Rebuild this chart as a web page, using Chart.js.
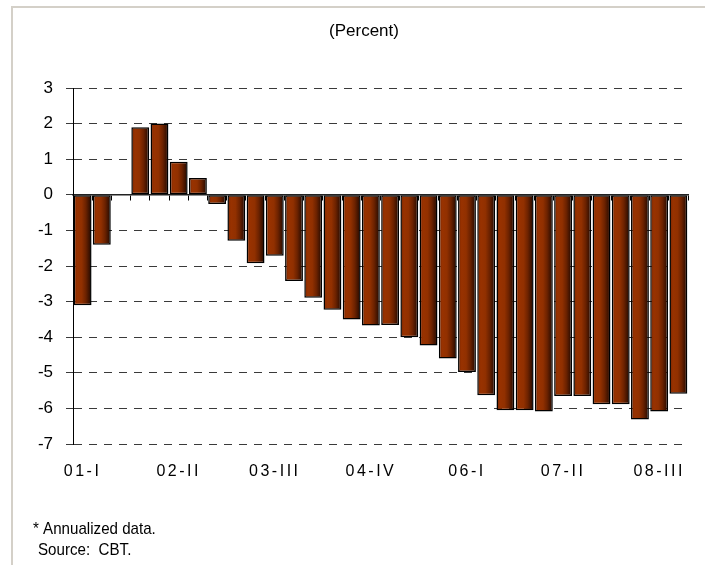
<!DOCTYPE html>
<html><head><meta charset="utf-8">
<script src="https://cdn.jsdelivr.net/npm/chart.js@4.4.1/dist/chart.umd.min.js"></script>
<style>html,body{margin:0;padding:0;background:#fff;} canvas{display:block;}</style>
</head><body>
<canvas id="c" width="705" height="565"></canvas>
<script>
const quarters = [
  '01-I','01-II','01-III','01-IV','02-I','02-II','02-III','02-IV',
  '03-I','03-II','03-III','03-IV','04-I','04-II','04-III','04-IV',
  '05-I','05-II','05-III','05-IV','06-I','06-II','06-III','06-IV',
  '07-I','07-II','07-III','07-IV','08-I','08-II','08-III','08-IV'
];
const values = [
  -3.10, -1.40, 0, 1.90, 2.00, 0.93, 0.47, -0.26,
  -1.29, -1.92, -1.71, -2.42, -2.89, -3.23, -3.50, -3.67,
  -3.66, -4.00, -4.23, -4.60, -4.98, -5.63, -6.05, -6.05,
  -6.09, -5.65, -5.65, -5.88, -5.88, -6.31, -6.09, -5.59
];
const shownTicks = ['01-I','02-II','03-III','04-IV','06-I','07-II','08-III'];
const titleText = '(Percent)';
const notes = ['* Annualized data.', 'Source:  CBT.'];

Chart.defaults.font.family = '"Liberation Sans", Arial, sans-serif';
Chart.defaults.color = '#000';

function barFill(c) {
  const chart = c.chart;
  const xs = chart.scales.x;
  if (!xs || c.dataIndex === undefined) return '#8a2d00';
  const cx = xs.getPixelForValue(c.dataIndex);
  const step = Math.abs(xs.getPixelForValue(1) - xs.getPixelForValue(0));
  if (!isFinite(cx) || !isFinite(step) || step <= 0) return '#8a2d00';
  const w = step * 0.93;
  const g = chart.ctx.createLinearGradient(cx - w / 2, 0, cx + w / 2, 0);
  g.addColorStop(0, '#7a2600');
  g.addColorStop(0.2, '#983200');
  g.addColorStop(0.45, '#913000');
  g.addColorStop(0.68, '#6c2200');
  g.addColorStop(0.86, '#401300');
  g.addColorStop(1, '#1e0800');
  return g;
}

const decor = {
  id: 'decor',
  beforeDraw(chart) {
    const xs = chart.scales.x;
    if (xs && !xs._spaced) {
      const orig = xs.drawLabels;
      xs.drawLabels = function (area) {
        const ctx = this.ctx;
        ctx.save();
        ctx.letterSpacing = '2.5px';
        orig.call(this, area);
        ctx.restore();
      };
      xs._spaced = true;
    }
    const ctx = chart.ctx;
    ctx.save();
    ctx.strokeStyle = '#d4d0c8';
    ctx.lineWidth = 2;
    ctx.beginPath();
    ctx.moveTo(12, chart.height + 2);
    ctx.lineTo(12, 7);
    ctx.lineTo(chart.width + 2, 7);
    ctx.stroke();
    ctx.restore();
  },
  afterDraw(chart) {
    const ctx = chart.ctx;
    ctx.save();
    ctx.fillStyle = '#000';
    ctx.textAlign = 'center';
    ctx.textBaseline = 'middle';
    ctx.font = '17px "Liberation Sans", Arial, sans-serif';
    ctx.fillText(titleText, 364, 31);
    ctx.textBaseline = 'alphabetic';
    ctx.textAlign = 'left';
    ctx.font = '17px "Liberation Sans", Arial, sans-serif';
    ctx.save();
    ctx.translate(33, 534);
    ctx.scale(0.89, 1);
    ctx.fillText(notes[0], 0, 0);
    ctx.restore();
    ctx.save();
    ctx.translate(38, 555);
    ctx.scale(0.89, 1);
    ctx.fillText(notes[1], 0, 0);
    ctx.restore();
    ctx.restore();
  }
};

new Chart(document.getElementById('c'), {
  type: 'bar',
  data: {
    labels: quarters,
    datasets: [{
      data: values,
      backgroundColor: barFill,
      borderColor: '#000',
      borderWidth: 1.5,
      borderSkipped: false,
      categoryPercentage: 1,
      barPercentage: 0.93,
      xAxisID: 'x',
      yAxisID: 'y'
    }]
  },
  options: {
    responsive: false,
    animation: false,
    events: [],
    layout: { padding: { left: 12, right: 17, top: 88, bottom: 81 } },
    plugins: {
      legend: { display: false },
      tooltip: { enabled: false },
      title: { display: false }
    },
    scales: {
      x: {
        type: 'category',
        position: 'bottom',
        offset: true,
        grid: { display: false, drawTicks: false },
        border: { display: false },
        ticks: {
          autoSkip: false,
          maxRotation: 0,
          padding: 18,
          font: { size: 16 },
          color: '#000',
          callback: function (v, i) {
            const l = this.getLabelForValue(v);
            return shownTicks.includes(l) ? l : '';
          }
        },
        afterFit: s => { s.height = 40; }
      },
      x2: {
        type: 'category',
        position: { y: 0 },
        offset: true,
        grid: { offset: true, drawOnChartArea: false, drawTicks: true, tickLength: 5, color: '#000', lineWidth: 1 },
        border: { display: true, color: '#222', width: 1.5 },
        ticks: { display: false }
      },
      y: {
        type: 'linear',
        min: -7,
        max: 3,
        ticks: { stepSize: 1, padding: 13, font: { size: 17 }, color: '#000' },
        grid: { color: '#3a3a3a', lineWidth: 1, drawTicks: true, tickLength: 7 },
        border: {
          display: true, color: '#000', width: 1,
          dash: c => (c.tick && c.tick.value === 0) ? [] : [8, 7]
        },
        afterFit: s => { s.width = 61; }
      }
    }
  },
  plugins: [decor]
});
</script>
</body></html>
